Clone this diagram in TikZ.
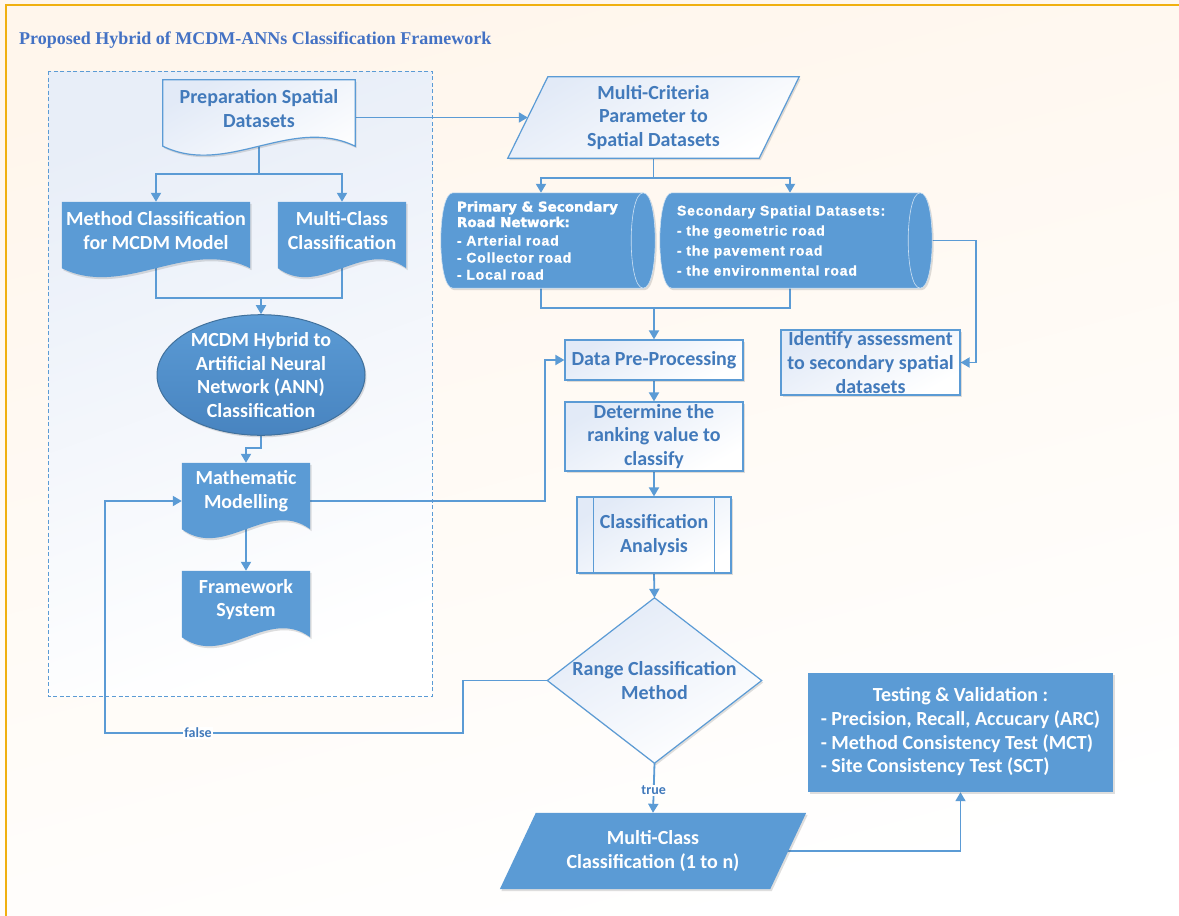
\documentclass[tikz,border=0pt]{standalone}
\usepackage{fontspec}
\setmainfont{Carlito}
\newfontfamily\titlefont{Liberation Serif}
\newfontfamily\arialfont[LetterSpace=6, BoldFeatures={FakeBold=1.2}]{Liberation Sans}
\newfontfamily\heavyfont[BoldFeatures={FakeBold=2}]{DejaVu Sans}
\usetikzlibrary{arrows.meta,shapes.geometric,shadows,calc}
\pgfdeclarelayer{background}
\pgfdeclarelayer{conn}
\pgfdeclarelayer{shapes}
\pgfsetlayers{background,conn,shapes,main}
\definecolor{fillblue}{RGB}{91,155,213}
\definecolor{lineblue}{RGB}{91,155,213}
\definecolor{txtblue}{RGB}{66,122,187}
\definecolor{titleblue}{RGB}{68,114,196}
\definecolor{darkedge}{RGB}{65,113,156}
\definecolor{gold}{RGB}{240,176,16}
\definecolor{cream}{RGB}{255,246,236}
\definecolor{lightfill}{RGB}{226,234,247}
\definecolor{ellbot}{RGB}{72,132,192}
\definecolor{dashfill}{RGB}{232,238,248}
\tikzset{
  base/.style={font=\bfseries\fontsize{20}{23.7}\selectfont, align=center, inner sep=0pt},
  softshadow/.style={drop shadow={shadow xshift=1.5pt, shadow yshift=-2pt, opacity=0.18, fill=black!70}},
  lightshade/.style={top color=lightfill, bottom color=white, shading angle=30},
  lightbox/.style={base, rectangle, draw=lineblue, line width=1.2pt, text=txtblue, lightshade, softshadow},
  bluebox/.style={base, rectangle, fill=fillblue, text=white, softshadow},
  ghost/.style={base, rectangle},
  lightshape/.style={draw=lineblue, line width=1.2pt, lightshade, softshadow},
  blueshape/.style={fill=fillblue, softshadow},
  conn/.style={draw=lineblue, line width=1.8pt},
  arr/.style={conn, -{Triangle[length=9pt,width=10pt]}},
  lbl/.style={font=\bfseries\fontsize{14}{16}\selectfont, text=txtblue, fill=white, inner sep=1pt},
  cyltext/.style={rectangle, inner sep=0pt, align=left, text=white, font=\arialfont\bfseries\fontsize{14}{17}\selectfont}
}
\newcommand\docpath[2]{%
  \path[#2] (#1.north west) -- (#1.north east) -- ($(#1.south east)+(0,9)$)
    .. controls ($(#1.south east)!0.3333!(#1.south west)+(0,-22)$) and ($(#1.south east)!0.6667!(#1.south west)+(0,40)$) .. ($(#1.south west)+(0,9)$) -- cycle;}
\newcommand\cylpath[1]{%
  \path[blueshape, draw=white!70!lineblue, line width=0.6pt] ($(#1.north west)+(12,0)$) -- ($(#1.north east)+(-12,0)$)
    .. controls ($(#1.north east)+(4,0)$) and ($(#1.south east)+(4,0)$) .. ($(#1.south east)+(-12,0)$)
    -- ($(#1.south west)+(12,0)$)
    .. controls ($(#1.south west)+(-4,0)$) and ($(#1.north west)+(-4,0)$) .. ($(#1.north west)+(12,0)$) -- cycle;
  \draw[white!70!lineblue, line width=0.6pt] ($(#1.north east)+(-12,0)$)
    .. controls ($(#1.north east)+(-28,0)$) and ($(#1.south east)+(-28,0)$) .. ($(#1.south east)+(-12,0)$);}
\begin{document}
\begin{tikzpicture}[x=1pt,y=-1pt]
\useasboundingbox (0,0) rectangle (1179,916);
\begin{pgfonlayer}{background}
  \shade[top color=cream, bottom color=white, shading angle=15] (0,0) rectangle (1179,916);
  \draw[gold, line width=2pt] (6,916) -- (6,5) -- (1179,5);
  \draw[draw=lineblue, line width=1pt, dash pattern=on 4pt off 2.5pt, top color=dashfill, bottom color=white, shading angle=20] (48,71) rectangle (432,696);
\end{pgfonlayer}

\node[anchor=west, inner sep=0pt, font=\titlefont\bfseries\fontsize{18}{20}\selectfont, text=titleblue] (title) at (19,40) {Proposed Hybrid of MCDM-ANNs Classification Framework};

% document-shaped nodes
\node[ghost, text=txtblue, minimum width=192, minimum height=57] (prep) at (259,108.5) {Preparation Spatial\\Datasets};
\node[ghost, text=white, minimum width=188, minimum height=57] (meth) at (156,230.5) {Method Classification\\for MCDM Model};
\node[ghost, text=white, minimum width=128, minimum height=57] (mcc) at (342,230.5) {Multi-Class\\Classification};
\node[ghost, text=white, minimum width=128, minimum height=57] (math) at (246,491.5) {Mathematic\\Modelling};
\node[ghost, text=white, minimum width=128, minimum height=57] (frame) at (246,599.5) {Framework\\System};
\begin{pgfonlayer}{shapes}
  \docpath{prep}{lightshape}
  \docpath{meth}{blueshape}
  \docpath{mcc}{blueshape}
  \docpath{math}{blueshape}
  \docpath{frame}{blueshape}
\end{pgfonlayer}

\node[base, ellipse, minimum width=208, minimum height=116, text=white, draw=darkedge, line width=1pt, top color=fillblue, bottom color=ellbot, softshadow] (ell) at (261,375) {MCDM Hybrid to\\Artificial Neural\\Network (ANN)\\Classification};

% parallelograms
\node[ghost, text=txtblue, minimum width=291, minimum height=81] (mc) at (653.5,117.5) {Multi-Criteria\\Parameter to\\Spatial Datasets};
\node[ghost, text=white, minimum width=306, minimum height=76] (mc2) at (653,851) {Multi-Class\\Classification (1 to n)};
% diamond
\node[ghost, text=txtblue, minimum width=214, minimum height=165] (rng) at (654.5,680.5) {Range Classification\\Method};
\begin{pgfonlayer}{shapes}
  \path[lightshape] ($(mc.north west)+(40,0)$) -- (mc.north east) -- ($(mc.south east)+(-40,0)$) -- (mc.south west) -- cycle;
  \path[blueshape] ($(mc2.north west)+(36,0)$) -- (mc2.north east) -- ($(mc2.south east)+(-36,0)$) -- (mc2.south west) -- cycle;
  \path[lightshape] (rng.north) -- (rng.east) -- (rng.south) -- (rng.west) -- cycle;
\end{pgfonlayer}
\coordinate (mcin) at ($(mc.west)+(20,0)$);
\coordinate (mc2out) at ($(mc2.east)+(-18,0)$);

% cylinders
\node[cyltext, minimum width=214, minimum height=95, text width=182] (cyl1) at (548,240.5)
  {{\heavyfont\bfseries\fontsize{13.5}{15.5}\selectfont Primary \& Secondary\\Road Network:\par}\vspace{1.5pt}- Arterial road\\- Collector road\\- Local road};
\node[cyltext, minimum width=272, minimum height=95, text width=238, font=\arialfont\bfseries\fontsize{14}{20}\selectfont] (cyl2) at (796,240.5)
  {Secondary Spatial Datasets:\\- the geometric road\\- the pavement road\\- the environmental road};
\begin{pgfonlayer}{shapes}
  \cylpath{cyl1}
  \cylpath{cyl2}
\end{pgfonlayer}

% boxes
\node[lightbox, minimum width=179, minimum height=65] (ident) at (870.5,362.5) {Identify assessment\\to secondary spatial\\datasets};
\node[lightbox, minimum width=178, minimum height=40] (dpp) at (654,360) {Data Pre-Processing};
\node[lightbox, minimum width=178, minimum height=69] (det) at (654,436.5) {Determine the\\ranking value to\\classify};
\node[lightbox, minimum width=154, minimum height=76] (ca) at (654,535) {Classification\\Analysis};
\draw[lineblue, line width=1.2pt] ($(ca.north west)+(17,0)$) -- ($(ca.south west)+(17,0)$);
\draw[lineblue, line width=1.2pt] ($(ca.north east)+(-17,0)$) -- ($(ca.south east)+(-17,0)$);
\node[bluebox, minimum width=305, minimum height=119] (test) at (960.5,732.5)
  {\begin{tabular}{@{}l@{}}\multicolumn{1}{@{}c@{}}{Testing \& Validation :}\\- Precision, Recall, Accucary (ARC)\\- Method Consistency Test (MCT)\\- Site Consistency Test (SCT)\end{tabular}};

% connectors
\coordinate (j0) at (259,174);
\coordinate (j1) at (261,298);
\coordinate (s1) at (653.5,178);
\coordinate (s2) at (654,308);
\coordinate (k1) at (545,501);
\coordinate (f1) at (463,733);
\coordinate (f2) at (105,733);
\coordinate (c1t) at ($(cyl1.north)+(-7,0)$);
\coordinate (c2t) at ($(cyl2.north)+(-6,0)$);
\coordinate (c1b) at ($(cyl1.south)+(-7,0)$);
\coordinate (c2b) at ($(cyl2.south)+(-6,0)$);
\coordinate (idr) at ($(ident.east)+(15,0)$);
\begin{pgfonlayer}{conn}
  \draw[conn] (prep.south) -- (j0);
  \draw[arr] (j0) -| (meth.north);
  \draw[arr] (j0) -| (mcc.north);
  \draw[conn] (meth.south) |- (j1) -| (mcc.south);
  \draw[arr] (j1) -- (ell.north);
  \draw[arr] (ell.south) -- ++(0,12) -| (math.north);
  \draw[arr] (math.south) -- (frame.north);
  \draw[arr] (prep.east |- mcin) -- (mcin);
  \draw[conn] (mc.south) -- (s1);
  \draw[arr] (s1) -| (c1t);
  \draw[arr] (s1) -| (c2t);
  \draw[conn] (c1b) |- (s2) -| (c2b);
  \draw[arr] (s2) -- (dpp.north);
  \draw[arr] (cyl2.east) -| (idr) |- (ident.east);
  \draw[arr] ([yshift=-9.5pt]math.east) -- (k1) |- (dpp.west);
  \draw[arr] (dpp.south) -- (det.north);
  \draw[arr] (det.south) -- (ca.north);
  \draw[arr] (ca.south) -- (rng.north);
  \draw[arr] (rng.west) -| (f1) -- node[lbl, pos=0.74] (lfalse) {false} (f2) |- ([yshift=-9.5pt]math.west);
  \draw[arr] (rng.south) -- node[lbl, pos=0.55] (ltrue) {true} (mc2.north);
  \draw[arr] (mc2out) -| (test.south);
\end{pgfonlayer}
\end{tikzpicture}
\end{document}
